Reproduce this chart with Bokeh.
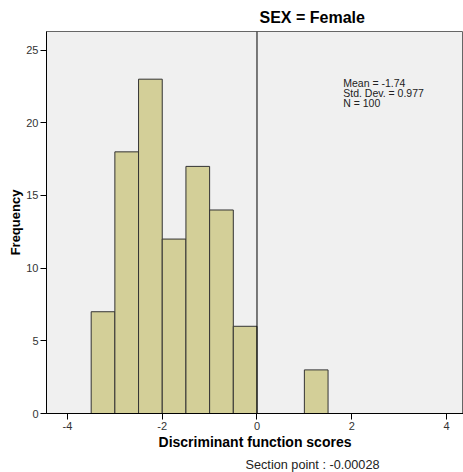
from bokeh.plotting import figure
from bokeh.models import FixedTicker, Range1d, Label, Span, Title
from bokeh.embed import file_html
from bokeh.resources import INLINE

# Data
bin_left = [-3.5, -3.0, -2.5, -2.0, -1.5, -1.0, -0.5, 1.0]
bin_right = [-3.0, -2.5, -2.0, -1.5, -1.0, -0.5, 0.0, 1.5]
counts = [7, 18, 23, 12, 17, 14, 6, 3]
x_ticks = [-4, -2, 0, 2, 4]
x_tick_labels = ["-4", "-2", "0", "2", "4"]
y_ticks = [0, 5, 10, 15, 20, 25]
stats_lines = ["Mean = -1.74", "Std. Dev. = 0.977", "N = 100"]
section_point = -0.00028
panel_title = "SEX = Female"

FONT = "Liberation Sans"
X0, X1 = -4.443, 4.359
Y0, Y1 = 0, 26.28
FW, FH = 417, 382

p = figure(frame_width=FW, frame_height=FH, output_backend="svg", toolbar_location=None,
           x_range=Range1d(X0, X1), y_range=Range1d(Y0, Y1),
           min_border_left=46, min_border_right=0, min_border_top=31, min_border_bottom=59)
p.background_fill_color = "#F0F0F0"
p.border_fill_color = "white"
p.outline_line_color = "#666666"
p.xgrid.visible = False
p.ygrid.visible = False

p.title.text = panel_title
p.title.text_font = FONT
p.title.text_font_size = "16px"
p.title.text_font_style = "bold"
p.title.text_color = "black"
p.title.align = "left"
p.title.offset = 213
p.title.standoff = 12

p.quad(left=bin_left, right=bin_right, bottom=0, top=counts,
       fill_color="#D3CF98", line_color="#333333", line_width=1)

p.add_layout(Span(location=0, dimension="height", line_color="black", line_width=1))

for ax in (p.xaxis[0], p.yaxis[0]):
    ax.axis_line_color = "black"
    ax.major_tick_line_color = "black"
    ax.major_tick_out = 6
    ax.major_tick_in = 0
    ax.minor_tick_line_color = None
    ax.major_label_text_font = FONT
    ax.major_label_text_font_size = "11px"
    ax.major_label_text_color = "#333333"
    ax.axis_label_text_font = FONT
    ax.axis_label_text_font_style = "bold"
    ax.axis_label_text_color = "black"

p.xaxis.axis_label_text_font_size = "14px"
p.yaxis.axis_label_text_font_size = "13px"
p.xaxis.ticker = FixedTicker(ticks=x_ticks)
p.xaxis.major_label_overrides = {t: l for t, l in zip(x_ticks, x_tick_labels)}
p.yaxis.ticker = FixedTicker(ticks=y_ticks)
p.xaxis.axis_label = "Discriminant function scores"
p.yaxis.axis_label = "Frequency"
p.xaxis.major_label_standoff = 2
p.yaxis.major_label_standoff = 2
p.xaxis.axis_label_standoff = 1
p.yaxis.axis_label_standoff = 0

px_x = FW / (X1 - X0)
px_y = FH / (Y1 - Y0)

for i, s in enumerate(stats_lines):
    p.add_layout(Label(x=1.82, y=23.0 + 2 / px_y - i * 10 / px_y, text=s, text_font=FONT,
                       text_font_size="10.5px", text_color="#222222",
                       text_baseline="top", text_align="left"))

sec = Title(text="Section point : %s" % section_point, text_font=FONT,
            text_font_size="12.7px", text_font_style="normal", text_color="#222222",
            align="left", offset=199, standoff=6)
p.add_layout(sec, "below")

open("out.html", "w").write(file_html(p, INLINE))
